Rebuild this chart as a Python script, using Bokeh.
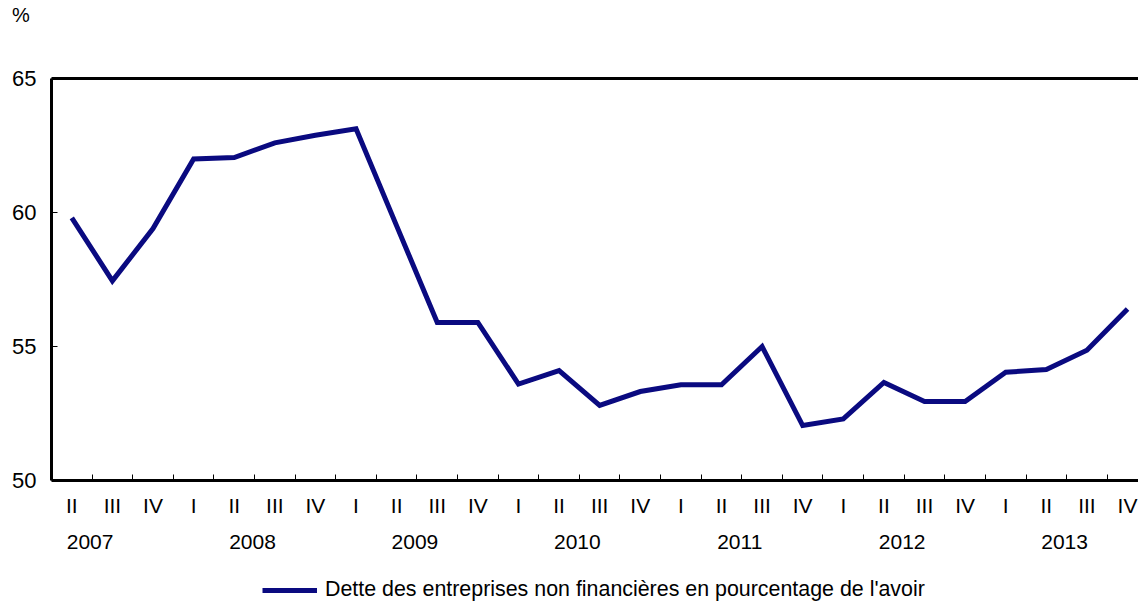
from bokeh.plotting import figure
from bokeh.layouts import column
from bokeh.models import (Range1d, LinearAxis, FixedTicker, Legend, LegendItem,
                          CustomJSTickFormatter, Div)
from bokeh.embed import file_html
from bokeh.resources import INLINE

# ---- data ----
quarters = ["II", "III", "IV",
            "I", "II", "III", "IV",
            "I", "II", "III", "IV",
            "I", "II", "III", "IV",
            "I", "II", "III", "IV",
            "I", "II", "III", "IV",
            "I", "II", "III", "IV"]
years = ["2007", "2008", "2009", "2010", "2011", "2012", "2013"]
values = [59.8, 57.45, 59.4,
          62.0, 62.05, 62.6, 62.88,
          63.12, 59.5, 55.9, 55.9,
          53.6, 54.1, 52.8, 53.32,
          53.57, 53.57, 55.0, 52.05,
          52.3, 53.66, 52.95, 52.95,
          54.04, 54.14, 54.86, 56.4]
series_name = "Dette des entreprises non financières en pourcentage de l'avoir"
unit_label = "%"
y_ticks = [50, 55, 60, 65]

FONT = "Liberation Sans"
FS = "21px"
NAVY = "#0a0a80"

x = list(range(len(values)))

# ---- unit label above the chart ----
unit_div = Div(text=('<div style="font-family:\'Liberation Sans\';font-size:20px;'
                     'line-height:20px;margin-left:12px;margin-top:5px;color:black;">'
                     + unit_label + '</div>'),
               width=200, height=22, margin=0)

# ---- main chart ----
p = figure(frame_width=1087, frame_height=402,
           x_range=Range1d(-0.5, 26.27), y_range=Range1d(50, 65),
           x_axis_type=None, y_axis_type=None,
           output_backend="svg", toolbar_location=None,
           min_border_left=51, min_border_right=0,
           min_border_top=56, min_border_bottom=80, margin=0)
p.outline_line_color = None
p.background_fill_color = "white"
p.border_fill_color = "white"

yax = LinearAxis(ticker=FixedTicker(ticks=y_ticks),
                 major_tick_in=6, major_tick_out=0,
                 major_tick_line_color="black", major_tick_line_width=1,
                 minor_tick_line_color=None,
                 axis_line_width=3, axis_line_color="black",
                 major_label_standoff=15,
                 major_label_text_font=FONT, major_label_text_font_size="22px",
                 major_label_text_color="black")
p.add_layout(yax, "left")

tax = LinearAxis(ticker=FixedTicker(ticks=[]),
                 axis_line_width=3, axis_line_color="black",
                 major_tick_line_color=None, minor_tick_line_color=None,
                 major_label_text_font_size="0px", major_label_standoff=0)
p.add_layout(tax, "above")

bounds = [i + 0.5 for i in range(len(values))]
bax = LinearAxis(ticker=FixedTicker(ticks=bounds),
                 formatter=CustomJSTickFormatter(code="return ''"),
                 major_tick_in=6, major_tick_out=0,
                 major_tick_line_color="black", major_tick_line_width=1,
                 minor_tick_line_color=None,
                 axis_line_width=3, axis_line_color="black",
                 major_label_text_font_size="0px", major_label_standoff=0)
p.add_layout(bax, "below")

qax = LinearAxis(ticker=FixedTicker(ticks=x),
                 major_label_overrides={i: q for i, q in enumerate(quarters)},
                 axis_line_color=None, major_tick_line_color=None,
                 minor_tick_line_color=None,
                 major_label_standoff=7,
                 major_label_text_font=FONT, major_label_text_font_size=FS,
                 major_label_text_color="black")
p.add_layout(qax, "below")

year_pos = [4 * k + 0.45 for k in range(len(years))]
yrax = LinearAxis(ticker=FixedTicker(ticks=year_pos),
                  major_label_overrides={pos: yr for pos, yr in zip(year_pos, years)},
                  axis_line_color=None, major_tick_line_color=None,
                  minor_tick_line_color=None,
                  major_label_standoff=9,
                  major_label_text_font=FONT, major_label_text_font_size=FS,
                  major_label_text_color="black")
p.add_layout(yrax, "below")

p.line(x, values, line_color=NAVY, line_width=5, line_join="miter")

# ---- legend strip (series drawn out of view; only its legend swatch shows) ----
pl = figure(width=1138, height=44, x_range=Range1d(0, 1), y_range=Range1d(0, 1),
            x_axis_type=None, y_axis_type=None,
            output_backend="svg", toolbar_location=None,
            min_border=0, margin=0)
pl.outline_line_color = None
pl.background_fill_color = "white"
pl.border_fill_color = "white"
rl = pl.line(x=x, y=values, line_color=NAVY, line_width=5)
legend = Legend(items=[LegendItem(label=series_name, renderers=[rl])],
                location=(211, 2), orientation="horizontal",
                glyph_width=55, glyph_height=20, label_standoff=8,
                label_text_font=FONT, label_text_font_size="21.4px",
                label_text_color="black",
                border_line_color=None, background_fill_alpha=0,
                padding=0, margin=0, spacing=0)
pl.add_layout(legend, "center")

layout = column(unit_div, p, pl, spacing=0, margin=0)

open("out.html", "w").write(file_html(layout, INLINE))
